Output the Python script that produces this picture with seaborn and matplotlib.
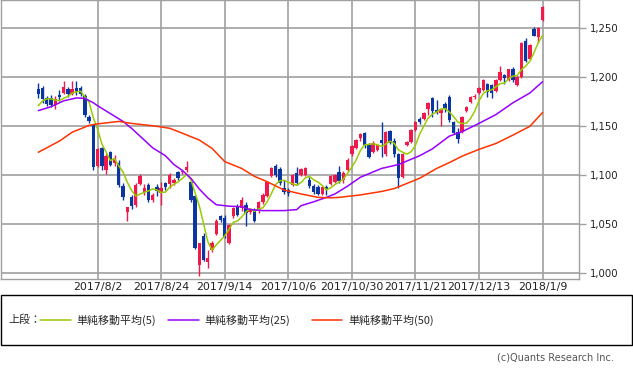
import numpy as np
import pandas as pd
import seaborn as sns
import matplotlib
matplotlib.use("Agg")
import matplotlib.pyplot as plt
from matplotlib.patches import Rectangle
from matplotlib.lines import Line2D

# daily candles, 2017/6/19 .. 2018/1/9
opens = [1188, 1189, 1179, 1179, 1172, 1182, 1184, 1188, 1183, 1189,
         1189, 1181, 1160, 1151, 1110, 1128, 1105, 1124, 1113, 1113,
         1089, 1063, 1078, 1070, 1091, 1083, 1090, 1075, 1088, 1082,
         1092, 1091, 1092, 1103, 1103, 1105, 1093, 1079, 1008, 1038,
         1012, 1024, 1040, 1058, 1056, 1031, 1058, 1069, 1067, 1070,
         1063, 1065, 1064, 1073, 1079, 1099, 1110, 1106, 1087, 1085,
         1090, 1102, 1100, 1100, 1095, 1089, 1088, 1081, 1088, 1091,
         1093, 1103, 1095, 1105, 1122, 1128, 1138, 1143, 1131, 1124,
         1126, 1136, 1122, 1145, 1135, 1122, 1098, 1131, 1134, 1146,
         1157, 1157, 1168, 1179, 1167, 1164, 1173, 1180, 1154, 1144,
         1144, 1166, 1175, 1180, 1184, 1187, 1193, 1192, 1186, 1197,
         1202, 1197, 1209, 1192, 1200, 1237, 1219, 1249, 1241, 1258]
highs = [1194, 1191, 1181, 1182, 1181, 1187, 1196, 1190, 1196, 1196,
         1191, 1183, 1162, 1152, 1128, 1129, 1122, 1125, 1121, 1116,
         1092, 1068, 1080, 1092, 1101, 1091, 1092, 1082, 1091, 1093,
         1093, 1102, 1097, 1104, 1105, 1115, 1094, 1080, 1031, 1041,
         1024, 1033, 1055, 1060, 1060, 1050, 1068, 1071, 1078, 1073,
         1067, 1067, 1074, 1082, 1094, 1108, 1112, 1108, 1095, 1087,
         1101, 1108, 1107, 1108, 1098, 1091, 1090, 1089, 1090, 1100,
         1101, 1110, 1104, 1118, 1131, 1137, 1143, 1144, 1133, 1135,
         1132, 1154, 1145, 1146, 1138, 1123, 1123, 1135, 1147, 1155,
         1160, 1165, 1175, 1180, 1177, 1169, 1175, 1182, 1155, 1148,
         1161, 1171, 1181, 1183, 1190, 1198, 1194, 1193, 1198, 1212,
         1203, 1209, 1211, 1201, 1236, 1240, 1234, 1251, 1251, 1273]
lows = [1179, 1174, 1171, 1170, 1168, 1176, 1183, 1180, 1182, 1182,
        1181, 1160, 1153, 1105, 1108, 1105, 1101, 1110, 1110, 1088,
        1075, 1053, 1066, 1068, 1090, 1080, 1073, 1073, 1079, 1070,
        1085, 1087, 1090, 1095, 1101, 1103, 1073, 1025, 997, 1013,
        1005, 1022, 1039, 1052, 1036, 1030, 1056, 1058, 1064, 1048,
        1061, 1052, 1062, 1071, 1078, 1098, 1098, 1090, 1081, 1079,
        1089, 1090, 1099, 1099, 1087, 1081, 1080, 1080, 1080, 1090,
        1092, 1092, 1092, 1104, 1120, 1127, 1135, 1128, 1118, 1123,
        1125, 1119, 1120, 1132, 1119, 1087, 1097, 1130, 1133, 1145,
        1152, 1156, 1162, 1160, 1163, 1150, 1165, 1154, 1142, 1133,
        1143, 1165, 1174, 1178, 1183, 1186, 1180, 1179, 1185, 1196,
        1193, 1196, 1195, 1191, 1199, 1216, 1218, 1242, 1235, 1257]
closes = [1183, 1178, 1173, 1172, 1178, 1180, 1190, 1183, 1188, 1185,
          1183, 1162, 1155, 1108, 1127, 1109, 1120, 1111, 1118, 1090,
          1078, 1068, 1069, 1090, 1099, 1087, 1075, 1080, 1084, 1087,
          1088, 1100, 1095, 1097, 1104, 1108, 1075, 1026, 1031, 1014,
          1016, 1031, 1053, 1054, 1037, 1049, 1067, 1060, 1075, 1062,
          1066, 1053, 1073, 1080, 1093, 1107, 1100, 1092, 1083, 1082,
          1100, 1092, 1106, 1107, 1089, 1083, 1081, 1088, 1085, 1099,
          1100, 1094, 1102, 1116, 1130, 1136, 1142, 1131, 1119, 1133,
          1131, 1133, 1144, 1133, 1122, 1097, 1122, 1134, 1146, 1154,
          1154, 1164, 1174, 1166, 1165, 1168, 1168, 1156, 1143, 1137,
          1160, 1170, 1180, 1181, 1189, 1197, 1185, 1184, 1197, 1205,
          1199, 1208, 1197, 1200, 1235, 1217, 1233, 1242, 1250, 1272]

# first MA(5) points come from days before the window
ma5_head = [1171, 1176, 1178, 1178]

ma25_idx = [0, 3, 6, 9, 11, 13, 14, 17, 20, 22, 27, 30, 32, 34, 36, 38, 40,
            42, 45, 48, 50, 53, 58, 61, 62, 65, 68, 70, 73, 76, 81, 85, 90,
            93, 97, 100, 104, 108, 112, 116, 119]
ma25_val = [1166, 1170, 1176, 1179, 1178.5, 1174, 1171, 1163, 1155, 1148,
            1128, 1120, 1111, 1105, 1097, 1086, 1077, 1070, 1068.5, 1068,
            1065, 1064, 1064, 1065, 1069, 1073, 1077.5, 1081, 1089, 1098,
            1107, 1111, 1120, 1127, 1140, 1144.5, 1153, 1162, 1174, 1184,
            1195.5]

ma50_idx = [0, 5, 8, 12, 14, 19, 22, 24, 28, 31, 34, 38, 41, 44, 48, 51, 54,
            58, 62, 66, 69, 71, 76, 81, 84, 86, 90, 94, 97, 100, 104, 108,
            112, 116, 119]
ma50_val = [1123.5, 1135, 1144, 1151, 1152.5, 1155, 1153, 1152, 1150, 1148,
            1143, 1136, 1127.5, 1114, 1107, 1099, 1093.5, 1085, 1081, 1077.5,
            1077, 1077.5, 1080, 1083.5, 1086.5, 1090, 1097, 1107, 1113,
            1119.5, 1126.5, 1132.5, 1141, 1150, 1164]

tick_idx = [14, 29, 44, 59, 74, 89, 104, 119]
tick_labels = ["2017/8/2", "2017/8/24", "2017/9/14", "2017/10/6",
               "2017/10/30", "2017/11/21", "2017/12/13", "2018/1/9"]
y_ticks = [1000, 1050, 1100, 1150, 1200, 1250]

legend_labels = ["単純移動平均(5)", "単純移動平均(25)", "単純移動平均(50)"]

UP = "#f0194a"
DOWN = "#0b35a0"
C5, C25, C50 = "#99cc00", "#9900ff", "#ff3300"
GRID = "#a0a0a0"

df = pd.DataFrame({"open": opens, "high": highs, "low": lows, "close": closes})
df["i"] = np.arange(len(df))
df["up"] = df["close"] >= df["open"]
ma5 = df["close"].rolling(5).mean()
ma5.iloc[:4] = ma5_head
df["ma5"] = ma5

sns.set_style("white")
plt.rcParams['font.family'] = ['DejaVu Sans', 'Noto Sans CJK JP']

fig = plt.figure(figsize=(6.33, 3.70), dpi=100)
ax = fig.add_axes([1 / 633, 91 / 370, 578 / 633, 279 / 370])

# wicks and bodies
colors = np.where(df["up"], UP, DOWN)
ax.vlines(df["i"], df["low"], df["high"], colors=colors, lw=1, zorder=3)
body_lo = df[["open", "close"]].min(axis=1)
body_h = (df["close"] - df["open"]).abs().clip(lower=0.8)
ax.bar(df["i"], body_h, bottom=body_lo, width=0.8, color=colors,
       linewidth=0, zorder=4)

sns.lineplot(x=df["i"], y=df["ma5"], ax=ax, color=C5, lw=1.1, zorder=5)
sns.lineplot(x=ma25_idx, y=ma25_val, ax=ax, color=C25, lw=1.1, zorder=5)
sns.lineplot(x=ma50_idx, y=ma50_val, ax=ax, color=C50, lw=1.1, zorder=5)

ax.set_xlim(-8.8, 127.6)
ax.set_ylim(994.2, 1278.9)
ax.set_xticks(tick_idx)
ax.set_xticklabels(tick_labels, fontsize=7.9)
ax.set_yticks(y_ticks)
ax.set_yticklabels([f"{v:,}" for v in y_ticks], fontsize=7.3)
ax.yaxis.tick_right()
ax.tick_params(axis="x", length=0, pad=2, colors="#222222")
ax.tick_params(axis="y", length=5, width=1, color=GRID, pad=3,
               labelcolor="#222222")
ax.grid(True, color=GRID, lw=1.2)
ax.set_axisbelow(True)
for s in ax.spines.values():
    s.set_color(GRID)
    s.set_linewidth(1)
ax.set_xlabel("")
ax.set_ylabel("")

# legend box below the chart
fig.add_artist(Rectangle((0.5 / 633, 25 / 370), 631 / 633, 50 / 370,
                         transform=fig.transFigure, fill=False,
                         edgecolor="black", lw=1))
ly = 50 / 370
jp = ['Noto Sans CJK JP', 'DejaVu Sans']
fig.text(8 / 633, ly, "上段：", fontsize=7.9, family=jp, va="center")
for (x0, x1, tx), col, lab in zip([(40, 71, 76), (168, 199, 204), (312, 342, 348)],
                                  [C5, C25, C50], legend_labels):
    fig.add_artist(Line2D([x0 / 633, x1 / 633], [ly, ly], color=col, lw=1.1,
                          transform=fig.transFigure))
    fig.text(tx / 633, ly, lab, fontsize=7.9, family=jp, va="center")

fig.text(614 / 633, 13 / 370, "(c)Quants Research Inc.", fontsize=7,
         color="#555555", ha="right", va="center")

fig.savefig("out.png", dpi=100)
